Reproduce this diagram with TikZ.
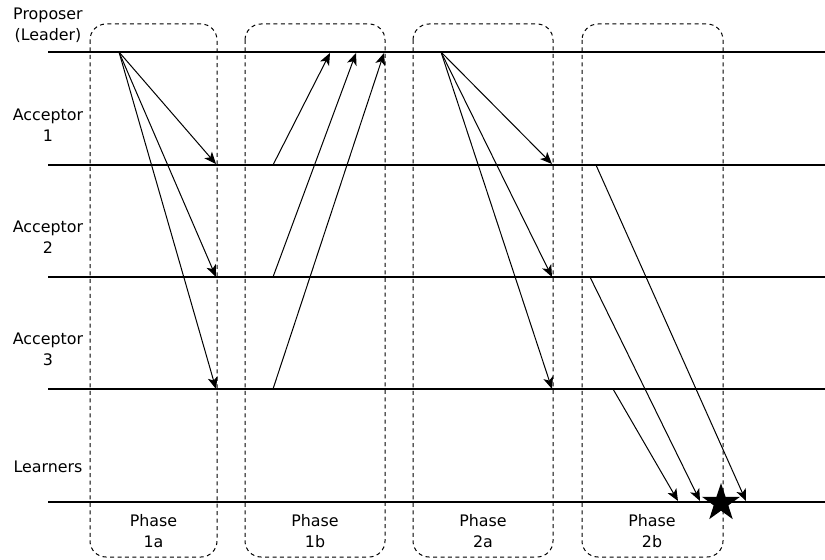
\documentclass[tikz,border=0pt]{standalone}
\usepackage{fontspec}
\setmainfont{DejaVu Sans}
\usetikzlibrary{arrows.meta,shapes.geometric}
\begin{document}
\begin{tikzpicture}[x=0.75pt,y=-0.75pt,
  font=\fontsize{11.9}{15.5}\selectfont,
  lane/.style={line width=1.5pt},
  msg/.style={line width=0.75pt,-{Stealth[length=9pt,width=7.5pt,inset=2.4pt]}},
  phasebox/.style={dashed,line width=0.75pt,dash pattern=on 3pt off 2.6pt,rounded corners=12pt},
  lbl/.style={align=center,inner sep=0pt},
]
\useasboundingbox (0,0) rectangle (825,560);
% phase boxes
\draw[phasebox] (90,24) rectangle (217,557);
\draw[phasebox] (245,24) rectangle (385,557);
\draw[phasebox] (413,24) rectangle (553,557);
\draw[phasebox] (582,24) rectangle (723,557);
% lanes
\foreach \n/\y in {p/52,a/165,b/277,c/389,l/502}{
  \coordinate (\n L) at (48,\y);
  \coordinate (\n R) at (825,\y);
  \draw[lane] (\n L) -- (\n R);
}
% labels
\node[lbl] (tp) at (48,25) {Proposer\\(Leader)};
\node[lbl] (t1) at (48,125) {Acceptor\\1};
\node[lbl] (t2) at (48,237) {Acceptor\\2};
\node[lbl] (t3) at (48,349) {Acceptor\\3};
\node[lbl] (tl) at (48,467) {Learners};
\node[lbl] (ph1) at (153.5,531) {Phase\\1a};
\node[lbl] (ph2) at (315,531) {Phase\\1b};
\node[lbl] (ph3) at (483,531) {Phase\\2a};
\node[lbl] (ph4) at (652,531) {Phase\\2b};
% phase 1a
\coordinate (s1a) at (119,52);
\coordinate (e1a1) at (216,164);
\coordinate (e1a2) at (216,277);
\coordinate (e1a3) at (216,389);
\draw[msg] (s1a) -- (e1a1);
\draw[msg] (s1a) -- (e1a2);
\draw[msg] (s1a) -- (e1a3);
% phase 1b
\coordinate (s1b1) at (273,165);
\coordinate (s1b2) at (273,277);
\coordinate (s1b3) at (273,389);
\coordinate (e1b1) at (330,53);
\coordinate (e1b2) at (356,53);
\coordinate (e1b3) at (384,53);
\draw[msg] (s1b1) -- (e1b1);
\draw[msg] (s1b2) -- (e1b2);
\draw[msg] (s1b3) -- (e1b3);
% phase 2a
\coordinate (s2a) at (441,52);
\coordinate (e2a1) at (552,164);
\coordinate (e2a2) at (552,277);
\coordinate (e2a3) at (552,389);
\draw[msg] (s2a) -- (e2a1);
\draw[msg] (s2a) -- (e2a2);
\draw[msg] (s2a) -- (e2a3);
% phase 2b
\coordinate (s2b1) at (596,165);
\coordinate (s2b2) at (590,277);
\coordinate (s2b3) at (613,389);
\coordinate (e2b1) at (746,501);
\coordinate (e2b2) at (700,501);
\coordinate (e2b3) at (678,501);
\draw[msg] (s2b1) -- (e2b1);
\draw[msg] (s2b2) -- (e2b2);
\draw[msg] (s2b3) -- (e2b3);
\node[star,star points=5,star point ratio=2.6,fill=black,inner sep=0pt,minimum size=30pt] (win) at (721,503) {};
\end{tikzpicture}
\end{document}
